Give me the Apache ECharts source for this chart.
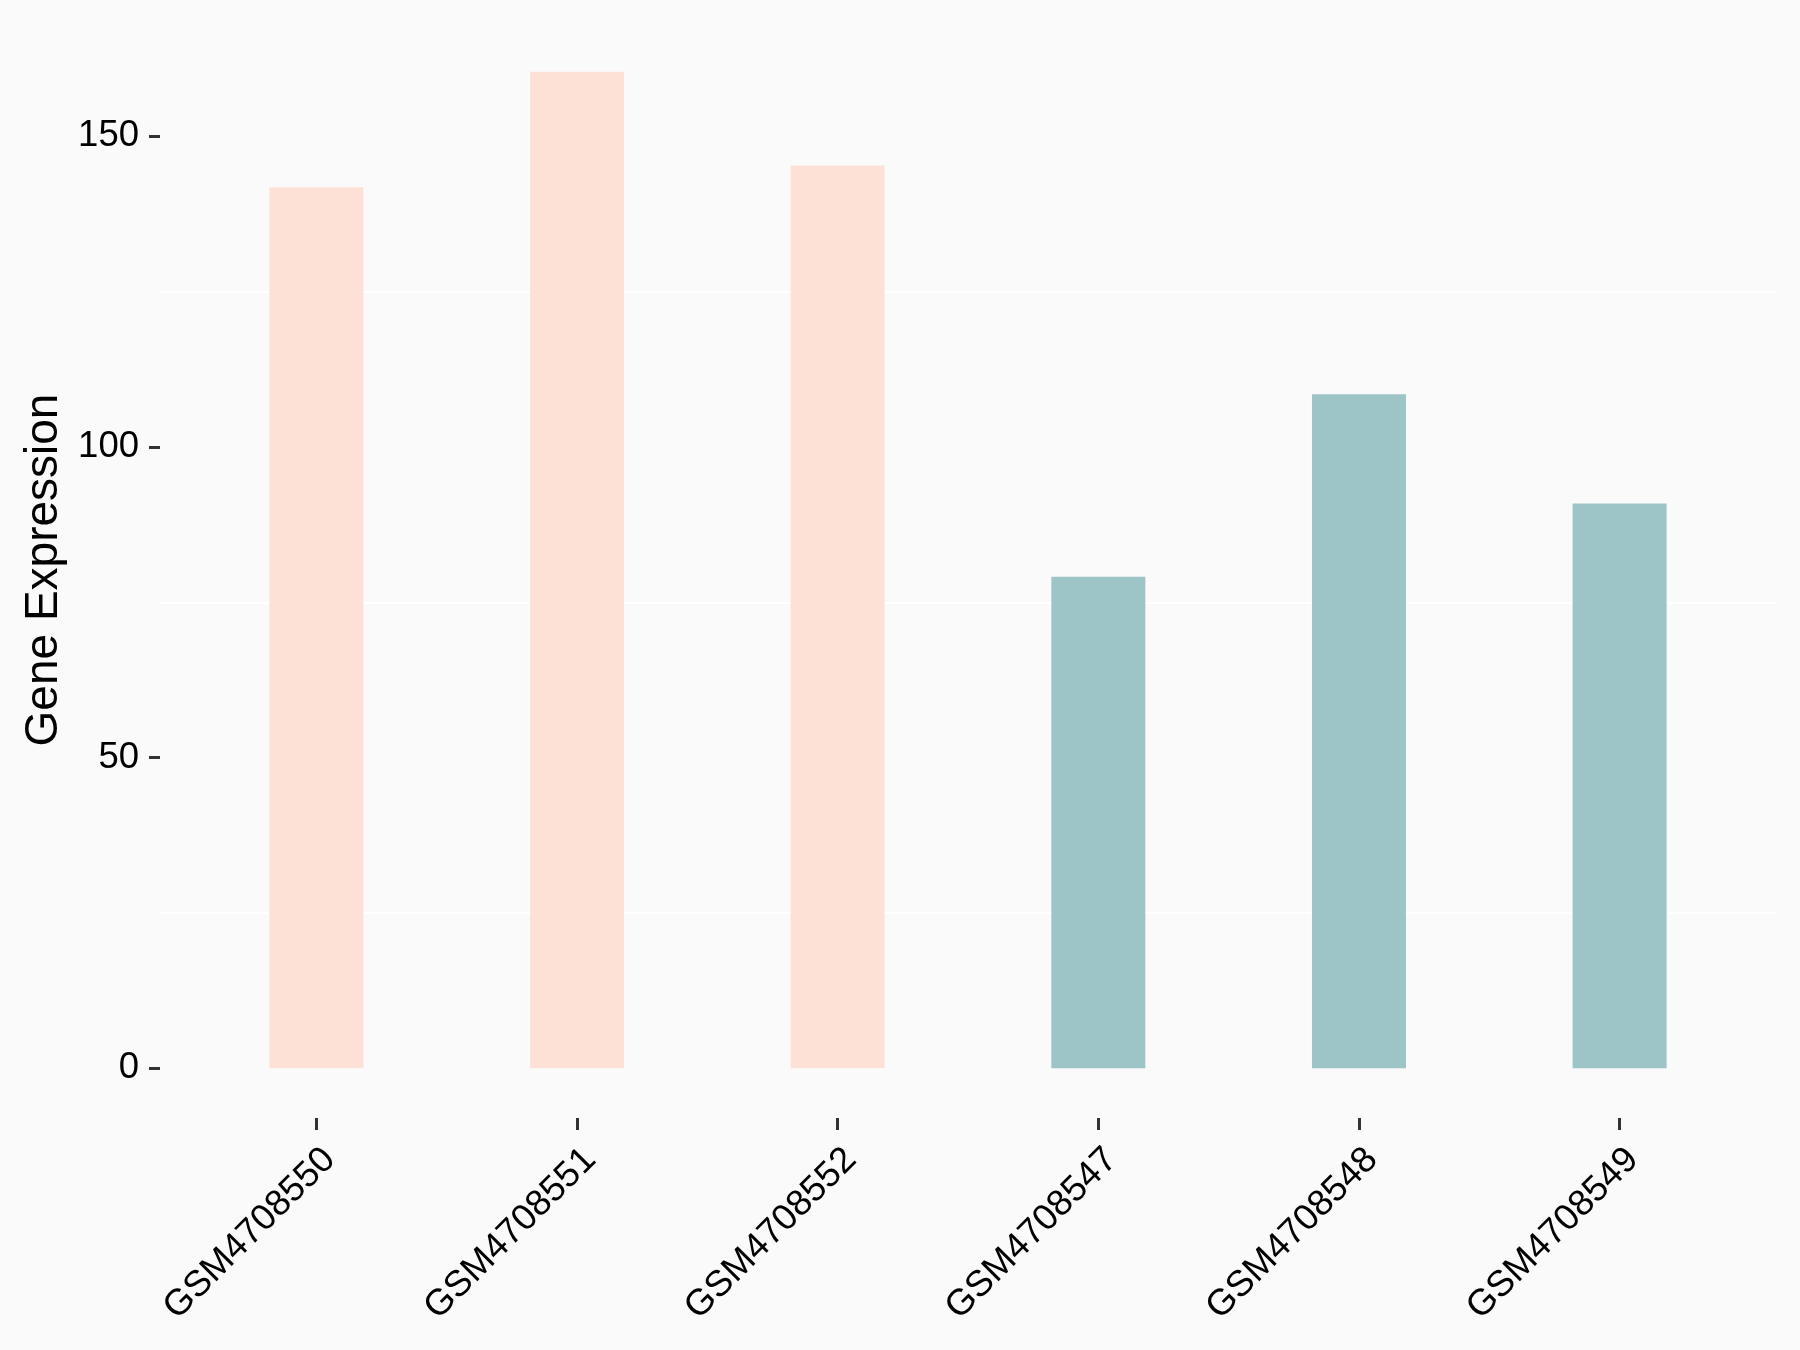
<!DOCTYPE html>
<html>
<head>
<meta charset="utf-8">
<script src="https://cdn.jsdelivr.net/npm/echarts@6/dist/echarts.min.js"></script>
<style>
  html, body { margin: 0; padding: 0; background: #FAFAFA; }
  #chart { width: 1800px; height: 1350px; }
</style>
</head>
<body>
<div id="chart"></div>
<script>
// ---- data ----
const samples = ['GSM4708550', 'GSM4708551', 'GSM4708552', 'GSM4708547', 'GSM4708548', 'GSM4708549'];
const expression = [141.8, 160.4, 145.3, 79.1, 108.5, 90.9];
const groups = ['A', 'A', 'A', 'B', 'B', 'B'];
const yTicks = [0, 50, 100, 150];
const yMinorGrid = [25, 75, 125];

// ---- styles ----
const groupColors = { A: '#FEE1D6', B: '#9DC4C7' };
const positions = samples.map((s, i) => i + 1);
const font = '"Liberation Sans", Arial, Helvetica, sans-serif';

const yMax = Math.max(...expression);
const pad = yMax * 0.05;

const chart = echarts.init(document.getElementById('chart'), null, { renderer: 'canvas' });
chart.setOption({
  backgroundColor: '#FAFAFA',
  animation: false,
  grid: { left: 160, right: 24, top: 22, bottom: 232 },
  xAxis: {
    type: 'value',
    min: 0.4,
    max: samples.length + 0.6,
    axisLine: { show: false, onZero: false },
    splitLine: { show: false },
    axisTick: {
      show: true, customValues: positions, length: 12,
      lineStyle: { color: '#333333', width: 3 }
    },
    axisLabel: {
      show: true, customValues: positions, rotate: 45,
      align: 'right', verticalAlign: 'top', margin: 23,
      fontSize: 36.5, color: '#000000', fontFamily: font,
      formatter: v => samples[Math.round(v) - 1]
    }
  },
  yAxis: {
    type: 'value',
    min: -pad,
    max: yMax + pad,
    name: 'Gene Expression',
    nameLocation: 'middle',
    nameGap: 92,
    nameTextStyle: { fontSize: 46, color: '#000000', fontFamily: font },
    axisLine: { show: false },
    splitLine: { show: false },
    axisTick: {
      show: true, customValues: yTicks, length: 11,
      lineStyle: { color: '#333333', width: 3 }
    },
    axisLabel: {
      show: true, customValues: yTicks, margin: 21,
      fontSize: 36.5, color: '#000000', fontFamily: font
    }
  },
  series: [{
    type: 'line',
    data: [],
    z: 1,
    silent: true,
    markLine: {
      silent: true,
      z: 1,
      symbol: 'none',
      label: { show: false },
      lineStyle: { color: '#FFFFFF', width: 2, type: 'solid' },
      data: yMinorGrid.map(v => ({ yAxis: v }))
    }
  }, {
    type: 'bar',
    barWidth: 94,
    z: 3,
    data: expression.map((v, i) => ({
      value: [positions[i], v],
      itemStyle: { color: groupColors[groups[i]] }
    }))
  }]
});
</script>
</body>
</html>
